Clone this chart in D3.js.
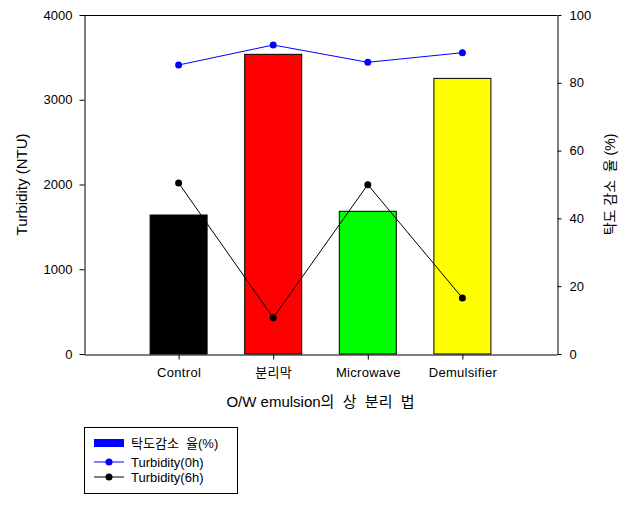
<!DOCTYPE html>
<html>
<head>
<meta charset="utf-8">
<script src="https://cdn.jsdelivr.net/npm/d3@7"></script>
<style>
  body { margin: 0; background: #fff; }
  text { font-family: "Liberation Sans", Arial, "Noto Sans CJK KR", sans-serif; fill: #000; }
</style>
</head>
<body>
<svg id="chart" width="631" height="507"></svg>
<script>
// data
let methods = ["Control", "분리막", "Microwave", "Demulsifier"];
let barColors = ["#000000", "#ff0000", "#00ff00", "#ffff00"];
let reduction = [41.0, 88.4, 42.1, 81.3];       // 탁도감소 율(%), right axis
let turbidity0h = [3410, 3646, 3442, 3555];     // Turbidity(0h), left axis
let turbidity6h = [2018, 428, 1998, 661];       // Turbidity(6h), left axis
let leftTicks = [0, 1000, 2000, 3000, 4000];
let rightTicks = [0, 20, 40, 60, 80, 100];

let svg = d3.select("#chart");
let margin = {left: 84, right: 74, top: 15, bottom: 153};
let width = 631, height = 507;
let x0 = margin.left, x1 = width - margin.right;
let y0 = height - margin.bottom, y1 = margin.top;

let x = d3.scalePoint().domain(methods).range([x0, x1]).padding(1);
let yLeft = d3.scaleLinear().domain([0, 4000]).range([y0, y1]);
let yRight = d3.scaleLinear().domain([0, 100]).range([y0, y1]);
let barWidth = 57;

// bars (reduction rate, right axis)
svg.selectAll(".bar")
  .data(methods)
  .enter()
  .append("rect")
  .attr("class", "bar")
  .attr("x", d => x(d) - barWidth / 2)
  .attr("y", (d, i) => yRight(reduction[i]))
  .attr("width", barWidth)
  .attr("height", (d, i) => yRight(0) - yRight(reduction[i]))
  .attr("fill", (d, i) => barColors[i])
  .attr("stroke", "#000")
  .attr("stroke-width", 1);

// frame
svg.append("line").attr("x1", x0).attr("x2", x1).attr("y1", y1 + 0.5).attr("y2", y1 + 0.5).attr("stroke", "#000");

// axes
let axLeft = svg.append("g")
  .attr("transform", "translate(" + (x0 + 0.5) + ",0)")
  .call(d3.axisLeft(yLeft).tickValues(leftTicks).tickFormat(d3.format("d"))
    .tickSize(5).tickPadding(7).tickSizeOuter(0));
let axRight = svg.append("g")
  .attr("transform", "translate(" + (x1 + 0.5) + ",0)")
  .call(d3.axisRight(yRight).tickValues(rightTicks).tickFormat(d3.format("d"))
    .tickSize(4).tickPadding(8).tickSizeOuter(0));
let axBottom = svg.append("g")
  .attr("transform", "translate(0," + (y0 + 0.5) + ")")
  .call(d3.axisBottom(x).tickSize(5).tickPadding(8).tickSizeOuter(0));

[axLeft, axRight, axBottom].forEach(g => {
  g.select(".domain").attr("stroke", "#000");
  g.selectAll(".tick line").attr("stroke", "#000");
  g.selectAll(".tick text").style("font-size", "13px")
    .style("font-family", "'Liberation Sans', Arial, 'Noto Sans CJK KR', sans-serif");
});
axBottom.selectAll(".tick text").style("letter-spacing", "0.3px");

// lines
let series = [
  {name: "Turbidity(0h)", values: turbidity0h, color: "#0000ff"},
  {name: "Turbidity(6h)", values: turbidity6h, color: "#000000"}
];
let line = d3.line().x(d => x(d.m)).y(d => yLeft(d.v));

series.forEach(s => {
  let pts = methods.map((m, i) => ({m: m, v: s.values[i]}));
  svg.append("path")
    .datum(pts)
    .attr("d", line)
    .attr("fill", "none")
    .attr("stroke", s.color)
    .attr("stroke-width", 1);
  svg.selectAll(null)
    .data(pts)
    .enter()
    .append("circle")
    .attr("cx", d => x(d.m))
    .attr("cy", d => yLeft(d.v))
    .attr("r", 3.5)
    .attr("fill", s.color);
});

// axis titles
svg.append("text")
  .attr("transform", "translate(27," + ((y0 + y1) / 2) + ") rotate(-90)")
  .attr("text-anchor", "middle")
  .style("font-size", "15px")
  .text("Turbidity (NTU)");

svg.append("text")
  .attr("transform", "translate(615," + ((y0 + y1) / 2) + ") rotate(-90)")
  .attr("text-anchor", "middle")
  .style("font-size", "14px")
  .style("white-space", "pre")
  .text("탁도 감소  율 (%)");

svg.append("text")
  .attr("x", (x0 + x1) / 2)
  .attr("y", 407)
  .attr("text-anchor", "middle")
  .style("font-size", "15px")
  .style("white-space", "pre")
  .text("O/W emulsion의  상  분리  법");

// legend
let legend = svg.append("g").attr("transform", "translate(84,427)");
legend.append("rect")
  .attr("x", 0.5).attr("y", 0.5)
  .attr("width", 153).attr("height", 66)
  .attr("fill", "#fff").attr("stroke", "#000");

legend.append("rect")
  .attr("x", 10).attr("y", 12)
  .attr("width", 30).attr("height", 8)
  .attr("fill", "#0000ff");
legend.append("text")
  .attr("x", 47).attr("y", 21)
  .style("font-size", "13px")
  .style("white-space", "pre")
  .text("탁도감소  율(%)");

let legRows = legend.selectAll(".legrow")
  .data(series)
  .enter()
  .append("g")
  .attr("transform", (d, i) => "translate(0," + (35 + i * 15) + ")");
legRows.append("line")
  .attr("x1", 10).attr("x2", 40)
  .attr("stroke", d => d.color);
legRows.append("circle")
  .attr("cx", 25).attr("r", 3.5)
  .attr("fill", d => d.color);
legRows.append("text")
  .attr("x", 47).attr("y", 5)
  .style("font-size", "13px")
  .text(d => d.name);
</script>
</body>
</html>
